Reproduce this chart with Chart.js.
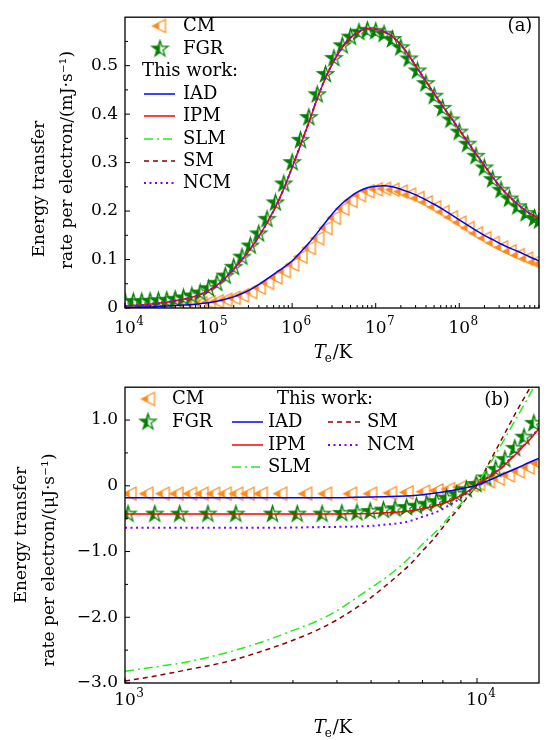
<!DOCTYPE html>
<html>
<head>
<meta charset="utf-8">
<script src="https://cdn.jsdelivr.net/npm/chart.js@4.4.0/dist/chart.umd.min.js"></script>
<style>
  body { margin: 0; background: #fff; }
  canvas { display: block; }
</style>
</head>
<body>
<canvas id="chartA" width="547" height="370"></canvas>
<canvas id="chartB" width="547" height="370"></canvas>
<script>
// ---------- panel (a): Te grid (log10 of Te), values in mJ/s ----------
const logTA = [4.0,4.1,4.2,4.3,4.4,4.5,4.6,4.7,4.8,4.9,5.0,5.1,5.2,5.3,5.4,5.5,5.6,5.7,5.8,5.9,
               6.0,6.1,6.2,6.3,6.4,6.5,6.6,6.7,6.8,6.9,7.0,7.1,7.2,7.3,7.4,7.5,7.6,7.7,7.8,7.9,
               8.0,8.1,8.2,8.3,8.4,8.5,8.6,8.7,8.8,8.9,8.96];
const cmA  = [0.006,0.006,0.006,0.006,0.006,0.007,0.007,0.008,0.009,0.010,
              0.012,0.014,0.017,0.021,0.026,0.033,0.042,0.052,0.063,0.076,
              0.090,0.106,0.124,0.144,0.165,0.186,0.205,0.221,0.233,0.241,
              0.245,0.246,0.244,0.240,0.234,0.227,0.218,0.208,0.198,0.187,
              0.176,0.165,0.154,0.144,0.134,0.125,0.117,0.109,0.102,0.095,0.091];
const fgrA = [0.013,0.013,0.013,0.014,0.015,0.016,0.018,0.021,0.025,0.031,
              0.040,0.051,0.066,0.084,0.105,0.128,0.153,0.183,0.217,0.256,
              0.300,0.346,0.393,0.440,0.482,0.515,0.541,0.559,0.569,0.573,
              0.571,0.565,0.554,0.537,0.514,0.489,0.463,0.437,0.412,0.388,
              0.363,0.338,0.313,0.289,0.265,0.243,0.225,0.209,0.195,0.185,0.180];
const iadA = [0.001,0.001,0.002,0.002,0.003,0.004,0.005,0.006,0.007,0.009,
              0.011,0.014,0.018,0.023,0.030,0.038,0.048,0.060,0.072,0.084,
              0.097,0.115,0.134,0.155,0.177,0.198,0.216,0.230,0.241,0.248,
              0.251,0.252,0.250,0.245,0.239,0.232,0.223,0.214,0.204,0.193,
              0.182,0.171,0.160,0.150,0.141,0.132,0.124,0.117,0.109,0.101,0.097];
// IPM, SLM, SM and NCM lie on top of each other in (a)
const modelA = [0.004,0.005,0.006,0.008,0.010,0.012,0.015,0.018,0.022,0.028,
                0.036,0.047,0.062,0.080,0.100,0.122,0.147,0.176,0.208,0.246,
                0.290,0.336,0.383,0.432,0.475,0.510,0.538,0.558,0.570,0.576,
                0.575,0.570,0.560,0.543,0.520,0.494,0.468,0.442,0.417,0.393,
                0.368,0.343,0.318,0.294,0.270,0.248,0.230,0.214,0.200,0.190,0.184];
const xTicksA = [1e4, 1e5, 1e6, 1e7, 1e8];
const yTicksA = [0, 0.1, 0.2, 0.3, 0.4, 0.5];
const yMinorA = [0.05, 0.15, 0.25, 0.35, 0.45, 0.55];

// ---------- panel (b): values in uJ/s ----------
const tLineB = [1000,1200,1500,2000,2500,3000,3500,4000,4500,5000,5500,6000,6500,7000,7500,
                8000,8500,9000,9500,10000,11000,12000,13000,14000,15000];
const iadB = [-0.18,-0.18,-0.18,-0.18,-0.18,-0.18,-0.18,-0.18,-0.175,-0.17,-0.165,-0.16,-0.15,-0.135,-0.115,
              -0.095,-0.07,-0.045,-0.02,0.01,0.10,0.19,0.27,0.35,0.42];
const ipmB = [-0.43,-0.43,-0.43,-0.43,-0.43,-0.43,-0.43,-0.43,-0.425,-0.42,-0.41,-0.40,-0.38,-0.35,-0.31,
              -0.27,-0.21,-0.15,-0.07,0.02,0.16,0.32,0.50,0.68,0.87];
const slmB = [-2.82,-2.76,-2.68,-2.52,-2.36,-2.20,-2.06,-1.90,-1.72,-1.55,-1.40,-1.24,-1.07,-0.89,-0.74,
              -0.58,-0.42,-0.27,-0.12,0.03,0.38,0.72,1.05,1.35,1.65];
const smB  = [-2.97,-2.90,-2.80,-2.66,-2.50,-2.35,-2.20,-2.04,-1.87,-1.70,-1.52,-1.35,-1.18,-0.99,-0.82,
              -0.63,-0.46,-0.30,-0.14,0.01,0.42,0.80,1.15,1.45,1.75];
const ncmB = [-0.64,-0.64,-0.64,-0.64,-0.64,-0.635,-0.63,-0.625,-0.62,-0.61,-0.59,-0.57,-0.53,-0.47,-0.42,
              -0.35,-0.27,-0.18,-0.08,0.02,0.17,0.33,0.51,0.69,0.88];
const tCmB = [1030,1150,1280,1400,1530,1650,1780,1920,2070,2230,2430,2760,3250,3700,4360,4970,5660,
              6310,7030,7670,8280,8930,9640,10070,10740,11460,12240,13060,13930,14860];
const cmB  = [-0.12,-0.12,-0.12,-0.12,-0.12,-0.12,-0.12,-0.12,-0.12,-0.12,-0.12,-0.12,-0.12,-0.12,-0.12,-0.12,-0.11,
              -0.10,-0.09,-0.07,-0.05,-0.02,0.01,0.03,0.07,0.11,0.16,0.22,0.28,0.34];
const tFgrB = [1020,1215,1430,1720,2065,2625,3085,3630,4130,4560,4970,5420,5850,6310,6730,7190,7670,
               8190,8750,9330,9940,10600,11300,12000,12800,13600,14500];
const fgrB  = [-0.43,-0.43,-0.43,-0.43,-0.43,-0.43,-0.43,-0.43,-0.42,-0.41,-0.39,-0.37,-0.35,-0.33,-0.31,-0.28,-0.24,
               -0.19,-0.13,-0.06,0.02,0.12,0.25,0.40,0.57,0.74,0.95];
const xTicksB = [1e3, 1e4];
const yTicksB = [-3, -2, -1, 0, 1];
const yMinorB = [-2.5, -1.5, -0.5, 0.5, 1.5];

const FONT = '"DejaVu Serif", "Liberation Serif", serif';
Chart.defaults.font.family = FONT;
Chart.defaults.font.size = 17;
Chart.defaults.color = '#000';

const ORANGE = '#ff8a16';
const GREEN = '#008000';

// half filled markers (left half filled, like matplotlib fillstyle='left')
function halfMarker(shape, color, r) {
  const s = Math.ceil(2 * r + 4);
  const c = document.createElement('canvas');
  c.width = s; c.height = s;
  const g = c.getContext('2d');
  const cx = s / 2, cy = s / 2;
  const p = new Path2D();
  if (shape === 'tri') {
    p.moveTo(cx - r, cy); p.lineTo(cx + r, cy - r); p.lineTo(cx + r, cy + r); p.closePath();
  } else {
    for (let i = 0; i < 10; i++) {
      const rr = i % 2 ? r * 0.382 : r;
      const a = -Math.PI / 2 + i * Math.PI / 5;
      if (i === 0) p.moveTo(cx + rr * Math.cos(a), cy + rr * Math.sin(a));
      else p.lineTo(cx + rr * Math.cos(a), cy + rr * Math.sin(a));
    }
    p.closePath();
  }
  g.fillStyle = '#fff';
  g.fill(p);
  g.save();
  g.beginPath(); g.rect(0, 0, cx, s); g.clip();
  g.fillStyle = color; g.fill(p);
  g.restore();
  g.strokeStyle = color; g.lineWidth = 1.2; g.lineJoin = 'miter';
  g.stroke(p);
  return c;
}
const triImg = halfMarker('tri', ORANGE, 6.5);
const starImg = halfMarker('star', GREEN, 8.5);

const styles = {
  IAD: { color: '#0000ff', dash: [], width: 1.5 },
  IPM: { color: '#ff0000', dash: [], width: 1.5 },
  SLM: { color: '#22ee22', dash: [9, 4, 2, 4], width: 1.5 },
  SM:  { color: '#8b0000', dash: [5, 4], width: 1.5 },
  NCM: { color: '#7f00ff', dash: [2, 3.5], width: 2 }
};

function pts(xs, ys) { return xs.map((x, i) => ({ x: x, y: ys[i] })); }

function lineDs(name, xs, ys, order) {
  const st = styles[name];
  return {
    label: name, data: pts(xs, ys), showLine: true, pointRadius: 0,
    borderColor: st.color, borderWidth: st.width, borderDash: st.dash,
    cubicInterpolationMode: 'monotone', order: order
  };
}
function markDs(name, xs, ys, img, order) {
  return { label: name, data: pts(xs, ys), showLine: false, pointStyle: img, pointRadius: 7, order: order };
}

function numLabel(v) {
  if (v === 0) return '0';
  return (v < 0 ? '−' : '') + Math.abs(v).toFixed(1);
}

function text(ctx, s, x, y, size, align) {
  ctx.font = size + 'px ' + FONT;
  ctx.textAlign = align || 'left';
  ctx.textBaseline = 'middle';
  ctx.fillStyle = '#000';
  ctx.fillText(s, x, y);
}

// "10" with a raised exponent, centred on the tick
function powText(ctx, v, x, base) {
  const e = String(Math.round(Math.log10(v)));
  ctx.textBaseline = 'alphabetic'; ctx.fillStyle = '#000';
  ctx.font = '17px ' + FONT; ctx.textAlign = 'center';
  const w = ctx.measureText('10').width;
  ctx.fillText('10', x, base);
  ctx.font = '12px ' + FONT; ctx.textAlign = 'left';
  ctx.fillText(e, x + w / 2 + 0.5, base - 8);
}

function drawTeK(ctx, cx, base) {
  const big = '18px ' + FONT, small = '12px ' + FONT, ital = 'italic 18px ' + FONT;
  ctx.textBaseline = 'alphabetic'; ctx.textAlign = 'left'; ctx.fillStyle = '#000';
  ctx.font = ital; const w1 = ctx.measureText('T').width;
  ctx.font = small; const w2 = ctx.measureText('e').width;
  ctx.font = big; const w3 = ctx.measureText('/K').width;
  let x = cx - (w1 + w2 + w3) / 2;
  ctx.font = ital; ctx.fillText('T', x, base); x += w1;
  ctx.font = small; ctx.fillText('e', x - 1, base + 4); x += w2;
  ctx.font = big; ctx.fillText('/K', x, base);
}

function panelPlugin(cfg) {
  return {
    id: 'panel' + cfg.tag,
    afterDatasetsDraw(chart) {
      const ctx = chart.ctx, a = chart.chartArea;
      const xs = chart.scales.x, ys = chart.scales.y;
      ctx.save();
      // frame
      ctx.strokeStyle = '#000'; ctx.lineWidth = 1.3; ctx.setLineDash([]);
      ctx.strokeRect(a.left, a.top, a.right - a.left, a.bottom - a.top);
      // inward ticks
      ctx.lineWidth = 1;
      ctx.beginPath();
      const xMinor = [];
      cfg.xTicks.forEach(d => { for (let m = 2; m <= 9; m++) if (m * d <= xs.max) xMinor.push(m * d); });
      cfg.xTicks.forEach(v => { const p = xs.getPixelForValue(v); ctx.moveTo(p, a.bottom); ctx.lineTo(p, a.bottom - 5); });
      xMinor.forEach(v => { const p = xs.getPixelForValue(v); ctx.moveTo(p, a.bottom); ctx.lineTo(p, a.bottom - 3); });
      cfg.yTicks.forEach(v => { const p = ys.getPixelForValue(v); ctx.moveTo(a.left, p); ctx.lineTo(a.left + 5, p); });
      cfg.yMinor.forEach(v => { if (v < ys.max) { const p = ys.getPixelForValue(v); ctx.moveTo(a.left, p); ctx.lineTo(a.left + 3, p); } });
      ctx.stroke();

      // x tick labels
      cfg.xTicks.forEach(v => powText(ctx, v, xs.getPixelForValue(v), cfg.xLabelBase));

      // legend
      cfg.legend.forEach(it => {
        if (it.kind === 'mark') {
          ctx.drawImage(it.img, it.x - it.img.width / 2, it.y - it.img.height / 2);
          text(ctx, it.label, it.tx, it.y, 18);
        } else if (it.kind === 'line') {
          const st = styles[it.label];
          ctx.strokeStyle = st.color; ctx.lineWidth = st.width; ctx.setLineDash(st.dash);
          ctx.beginPath(); ctx.moveTo(it.x1, it.y); ctx.lineTo(it.x2, it.y); ctx.stroke();
          ctx.setLineDash([]);
          text(ctx, it.label, it.tx, it.y, 18);
        } else {
          text(ctx, it.label, it.x, it.y, 18);
        }
      });

      // panel tag
      text(ctx, cfg.tagText, cfg.tagX, cfg.tagY, 18, 'center');

      // axis titles
      drawTeK(ctx, 333, cfg.xTitleBase);
      cfg.yTitle.forEach(l => {
        ctx.save();
        ctx.translate(l.x, l.y);
        ctx.rotate(-Math.PI / 2);
        text(ctx, l.text, 0, 0, 17, 'center');
        ctx.restore();
      });
      ctx.restore();
    }
  };
}

function baseOptions(o) {
  return {
    responsive: false,
    animation: false,
    layout: { padding: { top: o.top, right: 5, left: 0, bottom: 0 } },
    plugins: { legend: { display: false }, tooltip: { enabled: false } },
    scales: {
      x: {
        type: 'logarithmic', min: o.xmin, max: o.xmax,
        grid: { display: false, drawTicks: false }, border: { display: false },
        afterBuildTicks: s => { s.ticks = o.xTicks.map(v => ({ value: v })); },
        afterFit: s => { s.height = o.xh; },
        ticks: { display: false }
      },
      y: {
        type: 'linear', min: o.ymin, max: o.ymax,
        grid: { display: false, drawTicks: false }, border: { display: false },
        afterBuildTicks: s => { s.ticks = o.yTicks.map(v => ({ value: v })); },
        afterFit: s => { s.width = 125; },
        ticks: { padding: 7, autoSkip: false, callback: v => numLabel(v) }
      }
    }
  };
}

const tA = logTA.map(e => Math.pow(10, e));

new Chart(document.getElementById('chartA'), {
  type: 'scatter',
  data: {
    datasets: [
      markDs('CM', tA, cmA, triImg, 9),
      markDs('FGR', tA, fgrA, starImg, 8),
      lineDs('SM', tA, modelA, 6),
      lineDs('SLM', tA, modelA, 5),
      lineDs('IPM', tA, modelA, 4),
      lineDs('IAD', tA, iadA, 3),
      lineDs('NCM', tA, modelA, 2)
    ]
  },
  options: baseOptions({ top: 8, xh: 62, xmin: 1e4, xmax: 9e8, ymin: 0, ymax: 0.6, xTicks: xTicksA, yTicks: yTicksA }),
  plugins: [panelPlugin({
    tag: 'A', xTicks: xTicksA, yTicks: yTicksA, yMinor: yMinorA, xLabelBase: 333,
    tagText: '(a)', tagX: 520, tagY: 26, xTitleBase: 358,
    yTitle: [
      { text: 'Energy transfer', x: 40, y: 189 },
      { text: 'rate per electron/(mJ·s⁻¹)', x: 68, y: 160 }
    ],
    legend: [
      { kind: 'mark', img: triImg, x: 159, y: 26, tx: 183, label: 'CM' },
      { kind: 'mark', img: starImg, x: 160, y: 49, tx: 183, label: 'FGR' },
      { kind: 'text', x: 142, y: 71, label: 'This work:' },
      { kind: 'line', x1: 144, x2: 175, y: 94, tx: 183, label: 'IAD' },
      { kind: 'line', x1: 144, x2: 175, y: 116, tx: 183, label: 'IPM' },
      { kind: 'line', x1: 144, x2: 175, y: 139, tx: 183, label: 'SLM' },
      { kind: 'line', x1: 144, x2: 175, y: 161, tx: 183, label: 'SM' },
      { kind: 'line', x1: 144, x2: 175, y: 183, tx: 183, label: 'NCM' }
    ]
  })]
});

new Chart(document.getElementById('chartB'), {
  type: 'scatter',
  data: {
    datasets: [
      markDs('CM', tCmB, cmB, triImg, 9),
      markDs('FGR', tFgrB, fgrB, starImg, 8),
      lineDs('SM', tLineB, smB, 6),
      lineDs('SLM', tLineB, slmB, 5),
      lineDs('NCM', tLineB, ncmB, 4),
      lineDs('IPM', tLineB, ipmB, 3),
      lineDs('IAD', tLineB, iadB, 2)
    ]
  },
  options: baseOptions({ top: 12, xh: 57, xmin: 1e3, xmax: 1.5e4, ymin: -3, ymax: 1.5, xTicks: xTicksB, yTicks: yTicksB }),
  plugins: [panelPlugin({
    tag: 'B', xTicks: xTicksB, yTicks: yTicksB, yMinor: yMinorB, xLabelBase: 335,
    tagText: '(b)', tagX: 497, tagY: 30, xTitleBase: 363,
    yTitle: [
      { text: 'Energy transfer', x: 22, y: 165 },
      { text: 'rate per electron/(μJ·s⁻¹)', x: 50, y: 190 }
    ],
    legend: [
      { kind: 'mark', img: triImg, x: 148, y: 29, tx: 172, label: 'CM' },
      { kind: 'mark', img: starImg, x: 148, y: 52, tx: 172, label: 'FGR' },
      { kind: 'text', x: 277, y: 29, label: 'This work:' },
      { kind: 'line', x1: 232, x2: 263, y: 52, tx: 268, label: 'IAD' },
      { kind: 'line', x1: 232, x2: 263, y: 75, tx: 268, label: 'IPM' },
      { kind: 'line', x1: 232, x2: 263, y: 97, tx: 268, label: 'SLM' },
      { kind: 'line', x1: 328, x2: 360, y: 52, tx: 367, label: 'SM' },
      { kind: 'line', x1: 328, x2: 360, y: 75, tx: 367, label: 'NCM' }
    ]
  })]
});
</script>
</body>
</html>
